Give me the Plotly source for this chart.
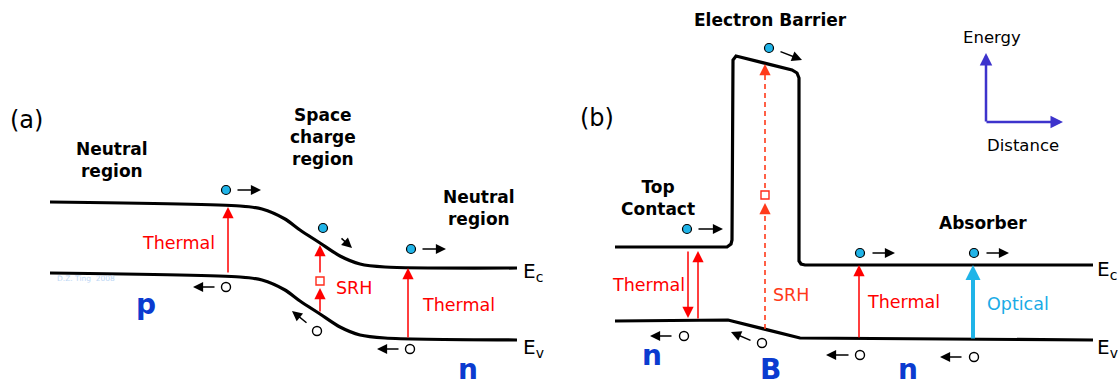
import plotly.graph_objects as go

W, H = 1118, 388

# ---- band edges (pixel-space diagram coordinates) ----
ec_a_x = [50, 240, 262, 285, 300, 320, 340, 360, 385, 517]
ec_a_y = [202, 206, 209, 219, 230, 243, 256, 264, 267, 268]
ev_a_x = [50, 240, 262, 285, 300, 320, 340, 360, 385, 517]
ev_a_y = [273, 277, 280, 290, 301, 314, 327, 335, 338, 340]

ec_b_x = [615, 727, 731, 732, 733, 736, 792, 797, 799, 799, 801, 805, 1093]
ec_b_y = [247, 247, 244, 240, 60, 56, 70, 73, 78, 261, 264, 265, 265]
ev_b_x = [615, 728, 800, 1093]
ev_b_y = [321, 320, 338, 340]

# ---- carriers ----
electron_x = [226, 323, 411, 687, 769, 860, 974]
electron_y = [190, 228, 249, 229, 48, 253, 253]
hole_x = [226, 317, 410, 684, 762, 860, 974]
hole_y = [287, 331, 349, 336, 343, 355, 357]

# carrier motion arrows: tail x, tail y, head x, head y
move_x0 = [236, 340, 421, 216, 308, 400, 697, 779, 871, 985, 673, 752, 850, 963]
move_y0 = [190, 237, 249, 287, 324, 349, 229, 51, 253, 253, 336, 341, 355, 357]
move_x1 = [261, 352, 446, 193, 292, 377, 723, 802, 895, 1009, 650, 731, 826, 940]
move_y1 = [190, 248, 249, 287, 311, 349, 229, 60, 253, 253, 336, 332, 355, 357]

# red transition arrows (solid)
therm_x0 = [228, 320, 320, 408, 688, 698, 859]
therm_y0 = [274, 313, 274, 339, 250, 320, 339]
therm_x1 = [228, 320, 320, 408, 688, 698, 859]
therm_y1 = [207, 288, 245, 268, 318, 251, 265]

# dashed SRH in (b)
srh_x = 765
srh_seg_y0 = [329, 188]
srh_seg_y1 = [203, 64]
trap_x = [320, 765]
trap_y = [281, 195]

# optical
opt_x = 973
opt_y0, opt_y1 = 340, 265

# energy/distance axes
axis_origin = (986, 122)
axis_up_y = 53
axis_right_x = 1063

# ---- text labels ----
bold_text = ["Neutral<br>region", "Space<br>charge<br>region", "Neutral<br>region",
             "Electron Barrier", "Top<br>Contact", "Absorber"]
bold_x = [112, 323, 479, 770, 658, 983]
bold_y = [160, 137, 208, 20, 198, 223]

red_text = ["Thermal", "SRH", "Thermal", "Thermal", "SRH", "Thermal"]
red_x = [178, 354, 458, 648, 791, 903]
red_y = [243, 288, 305, 285, 295, 302]
red_col = ["#ff0000", "#ff0000", "#ff0000", "#ff0000", "#ff3a1a", "#ff0000"]

# doping letters: (text, x, y, vertical anchor)
doping_text = ["p", "n", "n", "B", "n"]
doping_x = [146, 468, 652, 770, 908]
doping_y = [304, 388, 355, 388, 388]
doping_anchor = ["middle", "bottom", "middle", "bottom", "bottom"]

BLACK = "#000000"
CYAN = "#20b4e8"
BLUE = "#0b3bd0"
AXBLUE = "#3d33cc"
REG = "DejaVu Sans"

fig = go.Figure()

for xs, ys, shp in [(ec_a_x, ec_a_y, "spline"), (ev_a_x, ev_a_y, "spline"),
                    (ec_b_x, ec_b_y, "linear"), (ev_b_x, ev_b_y, "linear")]:
    fig.add_trace(go.Scatter(x=xs, y=ys, mode="lines",
                             line=dict(color=BLACK, width=3.2, shape=shp, smoothing=0.8),
                             hoverinfo="skip", showlegend=False))

# dashed SRH segments in (b)
for a, b in zip(srh_seg_y0, srh_seg_y1):
    fig.add_trace(go.Scatter(x=[srh_x, srh_x], y=[a, b + 6], mode="lines",
                             line=dict(color="#ff3a1a", width=1.6, dash="5px,4px"),
                             hoverinfo="skip", showlegend=False))

# electrons & holes
fig.add_trace(go.Scatter(x=electron_x, y=electron_y, mode="markers",
                         marker=dict(size=9, color=CYAN, line=dict(color=BLACK, width=1.2)),
                         hoverinfo="skip", showlegend=False))
fig.add_trace(go.Scatter(x=hole_x, y=hole_y, mode="markers",
                         marker=dict(size=9, color="white", line=dict(color=BLACK, width=1.4)),
                         hoverinfo="skip", showlegend=False))
# SRH traps
fig.add_trace(go.Scatter(x=trap_x, y=trap_y, mode="markers",
                         marker=dict(size=8, symbol="square-open", color="#ff2a1a",
                                     line=dict(width=1.4)),
                         hoverinfo="skip", showlegend=False))

ann = []


def arrow(x0, y0, x1, y1, color, width, size, head=2):
    ann.append(dict(x=x1, y=y1, ax=x0, ay=y0, xref="x", yref="y", axref="x", ayref="y",
                    text="", showarrow=True, arrowhead=head, arrowsize=size,
                    arrowwidth=width, arrowcolor=color, standoff=0, startstandoff=0))


for a, b, c, d in zip(move_x0, move_y0, move_x1, move_y1):
    arrow(a, b, c, d, BLACK, 1.5, 1.35)
for a, b, c, d in zip(therm_x0, therm_y0, therm_x1, therm_y1):
    arrow(a, b, c, d, "#ff0000", 1.5, 1.5)
for b in srh_seg_y1:
    arrow(srh_x, b + 9, srh_x, b, "#ff3a1a", 1.5, 1.5)
arrow(opt_x, opt_y0, opt_x, opt_y1, CYAN, 4, 0.75)
arrow(axis_origin[0], axis_origin[1] + 1, axis_origin[0], axis_up_y, AXBLUE, 2.5, 1.0)
arrow(axis_origin[0] - 1, axis_origin[1], axis_right_x, axis_origin[1], AXBLUE, 2.5, 1.0)


def label(t, x, y, size, color=BLACK, fam=REG, xanchor="center", yanchor="middle"):
    ann.append(dict(x=x, y=y, xref="x", yref="y", text=t, showarrow=False,
                    xanchor=xanchor, yanchor=yanchor,
                    font=dict(family=fam, size=size, color=color)))


for t, x, y in zip(bold_text, bold_x, bold_y):
    label("<b>" + t + "</b>", x, y, 17)
for t, x, y, c in zip(red_text, red_x, red_y, red_col):
    label(t, x, y, 17.5, c)
for t, x, y, va in zip(doping_text, doping_x, doping_y, doping_anchor):
    label("<b>" + t + "</b>", x, y, 28, BLUE, yanchor=va)

label("(a)", 26, 120, 24)
label("(b)", 597, 118, 24)
label("Energy", 992, 37, 16.5)
label("Distance", 1023, 145, 16.5)
label("Optical", 1018, 304, 17.5, "#1aabe6")
label("E<sub>c</sub>", 521, 272, 20, xanchor="left")
label("E<sub>v</sub>", 521, 348, 20, xanchor="left")
label("E<sub>c</sub>", 1095, 270, 20, xanchor="left")
label("E<sub>v</sub>", 1095, 348, 20, xanchor="left")
label("D.Z. Ting  2008", 86, 278, 7.5, "#bcd6f4")

fig.update_layout(
    width=W, height=H, margin=dict(l=0, r=0, t=0, b=0),
    paper_bgcolor="white", plot_bgcolor="white",
    xaxis=dict(range=[0, W], visible=False, fixedrange=True),
    yaxis=dict(range=[H, 0], visible=False, fixedrange=True),
    annotations=ann, showlegend=False,
)

fig.write_html("out.html", config={"displayModeBar": False},
               post_script="document.body.style.margin='0';document.body.style.overflow='hidden';")
